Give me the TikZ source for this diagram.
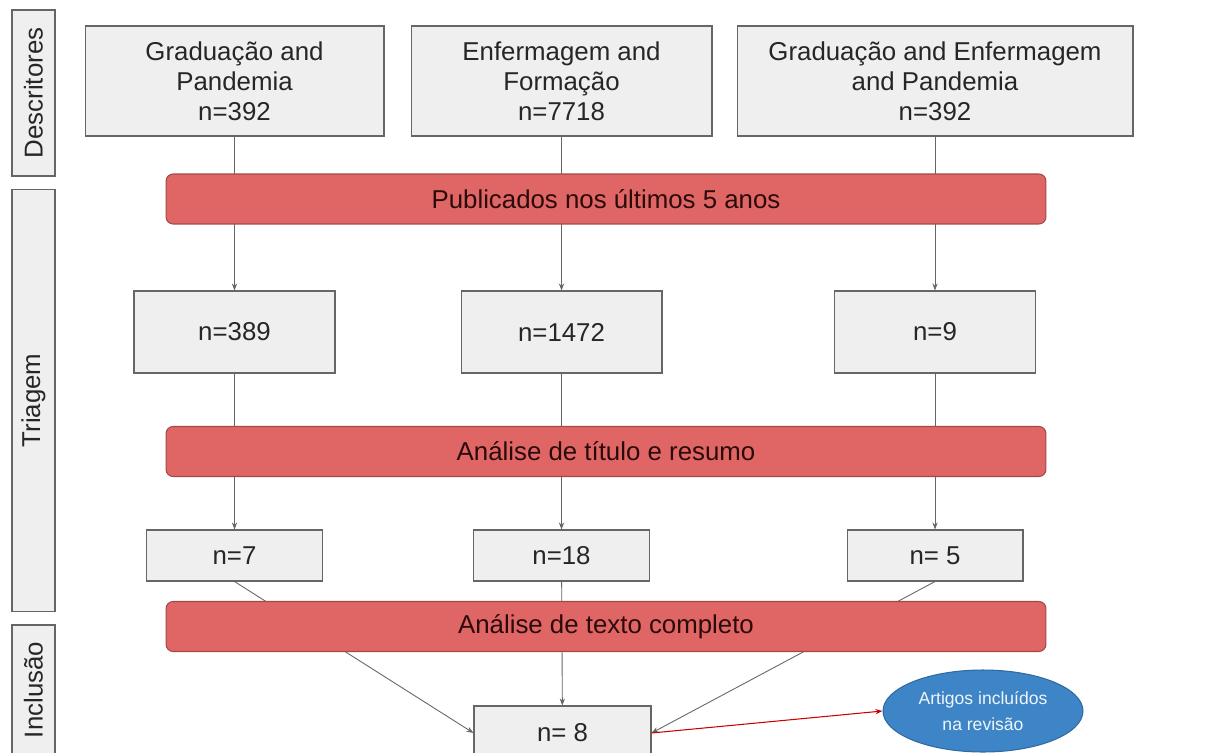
\documentclass[tikz,border=0pt]{standalone}
\usepackage{fontspec}
\setmainfont{Liberation Sans}
\usetikzlibrary{arrows.meta,positioning,shapes.geometric}
\definecolor{caixa}{HTML}{EFEFEF}
\definecolor{borda}{HTML}{666666}
\definecolor{barra}{HTML}{E06666}
\definecolor{barraborda}{HTML}{A14A4A}
\definecolor{textobarra}{HTML}{2B0A0A}
\definecolor{azul}{HTML}{3D85C6}
\definecolor{azulborda}{HTML}{2F6AA0}
\tikzset{
  txt/.style={font=\fontsize{14.7}{17}\selectfont,align=center,text=black!85},
  caixa/.style={txt,rectangle,fill=caixa,draw=borda,line width=0.6pt,inner sep=0pt},
  lado/.style={caixa,minimum height=0.86cm,rotate=90},
  filtro/.style={txt,rectangle,rounded corners=4pt,fill=barra,draw=barraborda,line width=0.6pt,
    minimum width=17.6cm,minimum height=1cm,text=textobarra},
  liga/.style={draw=borda,line width=0.5pt},
  seta/.style={liga,-{Stealth[length=4pt,width=3pt]}}
}
\begin{document}
\begin{tikzpicture}[x=0.02cm,y=-0.02cm]
\useasboundingbox (0,0) rectangle (1206,753);
% fases
\node[lado,minimum width=3.32cm] (desc) at (33.5,93) {Descritores};
\node[lado,minimum width=8.46cm] (triag) at (33.5,400.5) {Triagem};
\node[lado,minimum width=2.6cm] (incl) at (33.5,690) {Inclusão};
% descritores
\node[caixa,minimum width=5.98cm,minimum height=2.2cm] (g1) at (234.5,81) {Graduação and\\Pandemia\\n=392};
\node[caixa,minimum width=6.02cm,minimum height=2.2cm] (e1) at (561.5,81) {Enfermagem and\\Formação\\n=7718};
\node[caixa,minimum width=7.92cm,minimum height=2.2cm] (ge1) at (935,81) {Graduação and Enfermagem\\and Pandemia\\n=392};
% triagem
\node[caixa,minimum width=4.02cm,minimum height=1.64cm] (g2) at (234.5,332) {n=389};
\node[caixa,minimum width=4.02cm,minimum height=1.64cm] (e2) at (561.5,332) {n=1472};
\node[caixa,minimum width=4.02cm,minimum height=1.64cm] (ge2) at (935,332) {n=9};
\node[caixa,minimum width=3.52cm,minimum height=1.02cm] (g3) at (234.5,555.5) {n=7};
\node[caixa,minimum width=3.52cm,minimum height=1.02cm] (e3) at (561.5,555.5) {n=18};
\node[caixa,minimum width=3.52cm,minimum height=1.02cm] (ge3) at (935,555.5) {n= 5};
% inclusao
\node[caixa,minimum width=3.54cm,minimum height=1.08cm] (fim) at (562.5,733) {n= 8};
\node[ellipse,fill=azul,draw=azulborda,line width=0.6pt,minimum width=4cm,minimum height=1.64cm,
  inner sep=0pt,txt,font=\fontsize{10}{15}\selectfont,text=white!92!azul] (art) at (983,711) {Artigos incluídos\\na revisão};
% ligacoes (por baixo das barras)
\foreach \a/\b in {g1/g2,e1/e2,ge1/ge2,g2/g3,e2/e3,ge2/ge3}
  \draw[seta] (\a) -- (\b);
\draw[seta] (g3.south) -- (fim.west);
\draw[seta] (e3) -- (fim);
\draw[seta] (ge3.south) -- (fim.east);
\draw[red!80!black,line width=0.6pt,-{Stealth[length=4pt,width=3pt]}] (fim.east) -- (art.west);
% filtros
\node[filtro] (pub) at (606,199) {Publicados nos últimos 5 anos};
\node[filtro] (tit) at (606,451.5) {Análise de título e resumo};
\node[filtro] (tex) at (606,626.5) {Análise de texto completo};
\end{tikzpicture}
\end{document}
